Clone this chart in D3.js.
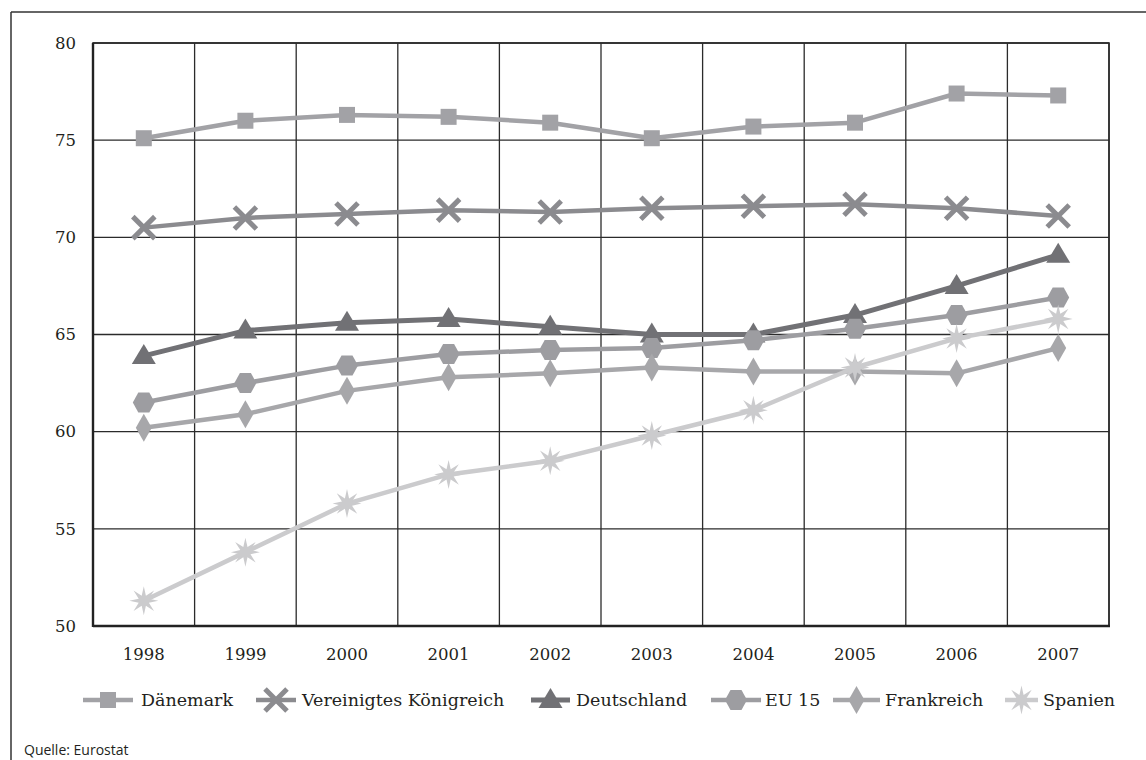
<!DOCTYPE html>
<html><head><meta charset="utf-8">
<script src="https://cdn.jsdelivr.net/npm/d3@7"></script>
<style>html,body{margin:0;padding:0;background:#fff;}svg{display:block;}</style>
</head><body>
<svg id="c" width="1146" height="760"></svg>
<script>
const years = ["1998","1999","2000","2001","2002","2003","2004","2005","2006","2007"];
const yTicks = [50,55,60,65,70,75,80];
const seriesNames = ["Dänemark","Vereinigtes Königreich","Deutschland","EU 15","Frankreich","Spanien"];
const daenemark = [75.1,76.0,76.3,76.2,75.9,75.1,75.7,75.9,77.4,77.3];
const vereinigtesKoenigreich = [70.5,71.0,71.2,71.4,71.3,71.5,71.6,71.7,71.5,71.1];
const deutschland = [63.9,65.2,65.6,65.8,65.4,65.0,65.0,66.0,67.5,69.1];
const eu15 = [61.5,62.5,63.4,64.0,64.2,64.3,64.7,65.3,66.0,66.9];
const frankreich = [60.2,60.9,62.1,62.8,63.0,63.3,63.1,63.1,63.0,64.3];
const spanien = [51.3,53.8,56.3,57.8,58.5,59.8,61.1,63.3,64.8,65.8];
const sourceText = "Quelle: Eurostat";

const seriesValues = [daenemark, vereinigtesKoenigreich, deutschland, eu15, frankreich, spanien];
const colors = ["#a2a2a6","#8b8b8f","#717175","#9d9da1","#a7a7aa","#cbcbcd"];
const widths = [4.5,4.5,5,4.5,4.5,4.5];
const markers = ["square","cross","triangle","hexagon","diamond","star"];
// legend layout: [lineStart, lineEnd, textStart]
const legendLayout = [[83,133,141],[256,296,302],[531,570,576],[711,761,765],[833,880,885],[1005,1038,1043]];

const svg = d3.select("#c");
const M = {left:93, right:1109, top:43, bottom:626};
const x = d3.scaleBand().domain(years).range([M.left, M.right]);
const y = d3.scaleLinear().domain([50,80]).range([M.bottom, M.top]);
const ink = "#231f20";

// outer frame (top & left)
svg.append("line").attr("x1",11).attr("x2",1146).attr("y1",12).attr("y2",12).attr("stroke","#333").attr("stroke-width",1.5);
svg.append("line").attr("x1",11).attr("x2",11).attr("y1",12).attr("y2",760).attr("stroke","#333").attr("stroke-width",1.5);

// grid
const g = svg.append("g");
g.selectAll(".hg").data(yTicks).join("line")
  .attr("x1",M.left).attr("x2",M.right).attr("y1",d=>y(d)).attr("y2",d=>y(d))
  .attr("stroke","#2b2b2b").attr("stroke-width",1.3);
const bounds = years.map(d=>x(d)).concat([M.right]);
g.selectAll(".vg").data(bounds).join("line")
  .attr("x1",d=>d).attr("x2",d=>d).attr("y1",M.top).attr("y2",M.bottom)
  .attr("stroke","#2b2b2b").attr("stroke-width",1.3);
// plot border
g.append("rect").attr("x",M.left).attr("y",M.top).attr("width",M.right-M.left).attr("height",M.bottom-M.top)
  .attr("fill","none").attr("stroke","#2b2b2b").attr("stroke-width",1.6);
g.append("line").attr("x1",M.left).attr("x2",M.right+1).attr("y1",M.bottom).attr("y2",M.bottom).attr("stroke","#222").attr("stroke-width",2.6);
g.append("line").attr("x1",M.left).attr("x2",M.left).attr("y1",M.top).attr("y2",M.bottom+1).attr("stroke","#222").attr("stroke-width",2.4);

// axes (labels only)
const yAxis = svg.append("g").attr("transform",`translate(${M.left},0)`)
  .call(d3.axisLeft(y).tickValues(yTicks).tickSize(0).tickPadding(17));
yAxis.select(".domain").remove();
yAxis.selectAll("text").attr("font-family","DejaVu Serif").attr("font-size","16.5px").attr("fill",ink);
const xAxis = svg.append("g").attr("transform",`translate(0,${M.bottom})`)
  .call(d3.axisBottom(x).tickSize(0).tickPadding(22));
xAxis.select(".domain").remove();
xAxis.selectAll("text").attr("font-family","DejaVu Serif").attr("font-size","16.5px").attr("fill",ink);

// marker drawing
function drawMarker(sel, type, color){
  if(type==="square"){
    sel.append("rect").attr("x",-8).attr("y",-8).attr("width",16).attr("height",16).attr("fill",color);
  } else if(type==="cross"){
    sel.append("path").attr("d","M-11,-11L11,11M-11,11L11,-11").attr("stroke",color).attr("stroke-width",5).attr("fill","none");
  } else if(type==="triangle"){
    sel.append("path").attr("d","M0,-12L12,8L-12,8Z").attr("fill",color);
  } else if(type==="hexagon"){
    sel.append("path").attr("d","M-11,0L-5.5,-10L5.5,-10L11,0L5.5,10L-5.5,10Z").attr("fill",color);
  } else if(type==="diamond"){
    sel.append("path").attr("d","M0,-14L8,0L0,14L-8,0Z").attr("fill",color);
  } else if(type==="star"){
    const pts=[];
    for(let i=0;i<16;i++){
      const r = i%2===0?14.5:5.5;
      const a = -Math.PI/2 + i*Math.PI/8;
      pts.push([r*Math.cos(a), r*Math.sin(a)]);
    }
    sel.append("path").attr("d","M"+pts.map(p=>p[0].toFixed(2)+","+p[1].toFixed(2)).join("L")+"Z").attr("fill",color);
  }
}

const line = d3.line().x((d,i)=>x(years[i])+x.bandwidth()/2).y(d=>y(d));
seriesValues.forEach((vals,si)=>{
  const sg = svg.append("g");
  sg.append("path").datum(vals).attr("d",line).attr("fill","none")
    .attr("stroke",colors[si]).attr("stroke-width",widths[si]).attr("stroke-linejoin","round");
  vals.forEach((v,i)=>{
    const mg = sg.append("g").attr("transform",`translate(${x(years[i])+x.bandwidth()/2},${y(v)})`);
    drawMarker(mg, markers[si], colors[si]);
  });
});

// legend
const ly = 700;
seriesNames.forEach((name,si)=>{
  const [a,b,t] = legendLayout[si];
  const lg = svg.append("g");
  lg.append("line").attr("x1",a).attr("x2",b).attr("y1",ly).attr("y2",ly).attr("stroke",colors[si]).attr("stroke-width",widths[si]);
  const mg = lg.append("g").attr("transform",`translate(${(a+b)/2},${ly})`);
  drawMarker(mg, markers[si], colors[si]);
  lg.append("text").attr("x",t).attr("y",ly).attr("dy","0.35em").attr("font-family","DejaVu Serif")
    .attr("font-size","17.5px").attr("fill",ink).text(name);
});

svg.append("text").attr("x",24).attr("y",755).attr("font-family","Open Sans").attr("font-size","14px").attr("fill",ink).text(sourceText);
</script>
</body></html>
